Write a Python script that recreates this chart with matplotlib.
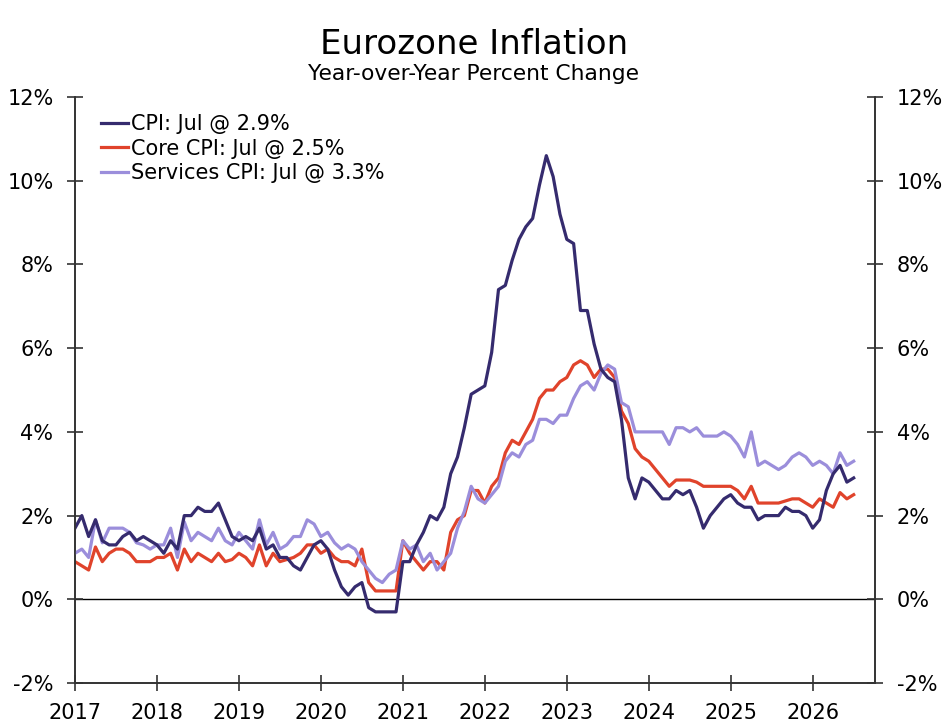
import matplotlib
matplotlib.use("Agg")
import matplotlib.pyplot as plt
import numpy as np

# monthly year-over-year % change, Jan 2017 .. Jul 2026
cpi = [
    1.7, 2.0, 1.5, 1.9, 1.4, 1.3, 1.3, 1.5, 1.6, 1.4, 1.5, 1.4,
    1.3, 1.1, 1.4, 1.2, 2.0, 2.0, 2.2, 2.1, 2.1, 2.3, 1.9, 1.5,
    1.4, 1.5, 1.4, 1.7, 1.2, 1.3, 1.0, 1.0, 0.8, 0.7, 1.0, 1.3,
    1.4, 1.2, 0.7, 0.3, 0.1, 0.3, 0.4, -0.2, -0.3, -0.3, -0.3, -0.3,
    0.9, 0.9, 1.3, 1.6, 2.0, 1.9, 2.2, 3.0, 3.4, 4.1, 4.9, 5.0,
    5.1, 5.9, 7.4, 7.5, 8.1, 8.6, 8.9, 9.1, 9.9, 10.6, 10.1, 9.2,
    8.6, 8.5, 6.9, 6.9, 6.1, 5.5, 5.3, 5.2, 4.3, 2.9, 2.4, 2.9,
    2.8, 2.6, 2.4, 2.4, 2.6, 2.5, 2.6, 2.2, 1.7, 2.0, 2.2, 2.4,
    2.5, 2.3, 2.2, 2.2, 1.9, 2.0, 2.0, 2.0, 2.2, 2.1, 2.1, 2.0,
    1.7, 1.9, 2.6, 3.0, 3.2, 2.8, 2.9,
]
core = [
    0.9, 0.8, 0.7, 1.25, 0.9, 1.1, 1.2, 1.2, 1.1, 0.9, 0.9, 0.9,
    1.0, 1.0, 1.1, 0.7, 1.2, 0.9, 1.1, 1.0, 0.9, 1.1, 0.9, 0.95,
    1.1, 1.0, 0.8, 1.3, 0.8, 1.1, 0.9, 0.95, 1.0, 1.1, 1.3, 1.3,
    1.1, 1.2, 1.0, 0.9, 0.9, 0.8, 1.2, 0.4, 0.2, 0.2, 0.2, 0.2,
    1.4, 1.1, 0.9, 0.7, 0.9, 0.9, 0.7, 1.6, 1.9, 2.0, 2.6, 2.6,
    2.3, 2.7, 2.9, 3.5, 3.8, 3.7, 4.0, 4.3, 4.8, 5.0, 5.0, 5.2,
    5.3, 5.6, 5.7, 5.6, 5.3, 5.5, 5.5, 5.3, 4.5, 4.2, 3.6, 3.4,
    3.3, 3.1, 2.9, 2.7, 2.85, 2.85, 2.85, 2.8, 2.7, 2.7, 2.7, 2.7,
    2.7, 2.6, 2.4, 2.7, 2.3, 2.3, 2.3, 2.3, 2.35, 2.4, 2.4, 2.3,
    2.2, 2.4, 2.3, 2.2, 2.55, 2.4, 2.5,
]
services = [
    1.1, 1.2, 1.0, 1.9, 1.35, 1.7, 1.7, 1.7, 1.6, 1.35, 1.3, 1.2,
    1.3, 1.3, 1.7, 1.0, 1.85, 1.4, 1.6, 1.5, 1.4, 1.7, 1.4, 1.3,
    1.6, 1.4, 1.2, 1.9, 1.3, 1.6, 1.2, 1.3, 1.5, 1.5, 1.9, 1.8,
    1.5, 1.6, 1.35, 1.2, 1.3, 1.2, 0.9, 0.7, 0.5, 0.4, 0.6, 0.7,
    1.4, 1.2, 1.3, 0.9, 1.1, 0.7, 0.9, 1.1, 1.7, 2.1, 2.7, 2.4,
    2.3, 2.5, 2.7, 3.3, 3.5, 3.4, 3.7, 3.8, 4.3, 4.3, 4.2, 4.4,
    4.4, 4.8, 5.1, 5.2, 5.0, 5.4, 5.6, 5.5, 4.7, 4.6, 4.0, 4.0,
    4.0, 4.0, 4.0, 3.7, 4.1, 4.1, 4.0, 4.1, 3.9, 3.9, 3.9, 4.0,
    3.9, 3.7, 3.4, 4.0, 3.2, 3.3, 3.2, 3.1, 3.2, 3.4, 3.5, 3.4,
    3.2, 3.3, 3.2, 3.0, 3.5, 3.2, 3.3,
]
labels = ["CPI: Jul @ 2.9%", "Core CPI: Jul @ 2.5%", "Services CPI: Jul @ 3.3%"]
years = list(range(2017, 2027))
yticks = [-2, 0, 2, 4, 6, 8, 10, 12]

t = 2017 + np.arange(len(cpi)) / 12.0

fig = plt.figure(figsize=(9.48, 7.26), dpi=100)
ax = fig.add_axes([0.0791, 0.0592, 0.8439, 0.8071])

ax.axhline(0, color="black", lw=1.0, zorder=1)
ax.plot(t, cpi, color="#352B6E", lw=2.3, label=labels[0], zorder=4)
ax.plot(t, core, color="#E0432B", lw=2.3, label=labels[1], zorder=2)
ax.plot(t, services, color="#9B8EDB", lw=2.3, label=labels[2], zorder=3)

ax.set_xlim(2017, 2026.76)
ax.set_ylim(-2, 12)
ax.set_xticks(years)
ax.set_xticklabels([str(y) for y in years])
ax.set_yticks(yticks)
ax.set_yticklabels([f"{v}%" for v in yticks])

ax2 = ax.twinx()
ax2.set_ylim(-2, 12)
ax2.set_yticks(yticks)
ax2.set_yticklabels([f"{v}%" for v in yticks])

for a in (ax, ax2):
    a.spines["top"].set_visible(False)
    for s in ("left", "right", "bottom"):
        a.spines[s].set_color("#333333")
        a.spines[s].set_linewidth(1.2)
    a.tick_params(axis="both", direction="inout", length=11, width=1.2,
                  color="#333333", labelsize=15, pad=10)
ax.tick_params(axis="x", pad=9)

leg = ax.legend(loc="upper left", bbox_to_anchor=(0.0325, 0.971), frameon=False,
                fontsize=15, handlelength=1.3, handletextpad=0.15,
                labelspacing=0.22, borderpad=0, borderaxespad=0)

fig.text(0.5, 0.939, "Eurozone Inflation", ha="center", va="center", fontsize=24.5)
fig.text(0.5, 0.898, "Year-over-Year Percent Change", ha="center", va="center", fontsize=15.7)

fig.savefig("out.png", dpi=100)
